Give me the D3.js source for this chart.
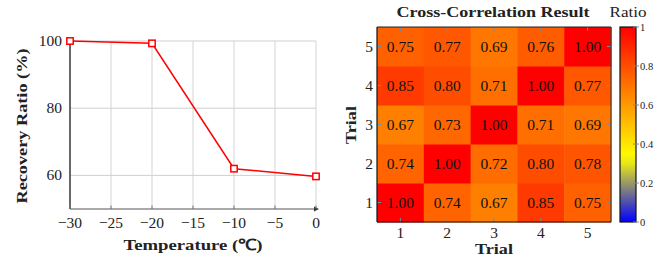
<!DOCTYPE html>
<html><head><meta charset="utf-8">
<script src="https://cdn.jsdelivr.net/npm/d3@7"></script>
<style>body{margin:0;background:#fff}svg{display:block}text{font-family:"Liberation Serif",serif;fill:#222}</style>
</head><body><svg id="c" width="672" height="259"></svg>
<script>
const temps = [-30, -20, -10, 0];
const recovery = [100, 99.3, 62, 59.7];
const xTicks = [-30, -25, -20, -15, -10, -5, 0];
const yTicks = [60, 80, 100];
const trials = [1, 2, 3, 4, 5];
// rows: trial y = 1..5, columns: trial x = 1..5
const corr = [
  [1.00, 0.74, 0.67, 0.85, 0.75],
  [0.74, 1.00, 0.72, 0.80, 0.78],
  [0.67, 0.73, 1.00, 0.71, 0.69],
  [0.85, 0.80, 0.71, 1.00, 0.77],
  [0.75, 0.77, 0.69, 0.76, 1.00]
];
const cbTicks = [0, 0.2, 0.4, 0.6, 0.8, 1];
const cbLabels = ["0", "0.2", "0.4", "0.6", "0.8", "1"];

const svg = d3.select("#c");
const minus = s => String(s).replace("-", "\u2212");

// ---------- Left line chart ----------
const L = {l: 70, r: 316, t: 41, b: 209};
const x = d3.scaleLinear().domain([-30, 0]).range([L.l, L.r]);
const y = d3.scaleLinear().domain([50, 100]).range([L.b, L.t]);
const g1 = svg.append("g");
g1.selectAll(".vg").data(xTicks).join("line")
  .attr("x1", d => x(d)).attr("x2", d => x(d)).attr("y1", L.t).attr("y2", L.b)
  .attr("stroke", "#d4d4d4").attr("stroke-width", 1);
g1.selectAll(".hg").data(yTicks).join("line")
  .attr("x1", L.l).attr("x2", L.r).attr("y1", d => y(d)).attr("y2", d => y(d))
  .attr("stroke", "#cfcfcf").attr("stroke-width", 1);
// axes
g1.append("line").attr("x1", L.l).attr("x2", L.l).attr("y1", L.t).attr("y2", L.b).attr("stroke", "#111").attr("stroke-width", 1.2);
g1.append("line").attr("x1", L.l).attr("x2", L.r + 1).attr("y1", L.b).attr("y2", L.b).attr("stroke", "#555").attr("stroke-width", 1.2);
g1.append("path").attr("d", `M${L.r + 3},${L.b} l-5,-2.5 l0,5 z`).attr("fill", "#333");
g1.selectAll(".xt").data(xTicks).join("line")
  .attr("x1", d => x(d)).attr("x2", d => x(d)).attr("y1", L.b).attr("y2", L.b - 3.5)
  .attr("stroke", "#777");
g1.selectAll(".xl").data(xTicks).join("text")
  .attr("x", d => x(d)).attr("y", 228).attr("text-anchor", "middle")
  .attr("font-size", 15.5).text(d => minus(d));
g1.selectAll(".yl").data(yTicks).join("text")
  .attr("x", 62).attr("y", d => y(d) + 5).attr("text-anchor", "end")
  .attr("font-size", 15.5).text(d => d);
g1.append("text").attr("x", 193).attr("y", 250).attr("text-anchor", "middle")
  .attr("font-size", 15.5).attr("font-weight", "bold")
  .attr("textLength", 139).attr("lengthAdjust", "spacingAndGlyphs").text("Temperature (\u2103)");
g1.append("text").attr("transform", "translate(27,126) rotate(-90)").attr("text-anchor", "middle")
  .attr("font-size", 15.5).attr("font-weight", "bold")
  .attr("textLength", 155).attr("lengthAdjust", "spacingAndGlyphs").text("Recovery Ratio (%)");
const pts = temps.map((t, i) => [t, recovery[i]]);
g1.append("path").attr("d", d3.line().x(d => x(d[0])).y(d => y(d[1]))(pts))
  .attr("fill", "none").attr("stroke", "#ff0000").attr("stroke-width", 1.5);
g1.selectAll(".mk").data(pts).join("rect")
  .attr("x", d => x(d[0]) - 3.2).attr("y", d => y(d[1]) - 3.2).attr("width", 6.4).attr("height", 6.4)
  .attr("fill", "#fff").attr("stroke", "#ff0000").attr("stroke-width", 1.5);

// ---------- Right heatmap ----------
const H = {l: 377, r: 611, t: 27, b: 222};
const hx = d3.scaleBand().domain(trials).range([H.l, H.r]);
const hy = d3.scaleBand().domain(trials.slice().reverse()).range([H.t, H.b]);
const cmap = d3.scaleLinear().domain([0, 1/3, 2/3, 1])
  .range(["#0000ff", "#ffff00", "#ff8000", "#ff0000"]).interpolate(d3.interpolateRgb);
const g2 = svg.append("g");
const cells = [];
corr.forEach((row, i) => row.forEach((v, j) => cells.push({xi: trials[j], yi: trials[i], v})));
g2.selectAll(".cell").data(cells).join("rect")
  .attr("x", d => hx(d.xi)).attr("y", d => hy(d.yi))
  .attr("width", hx.bandwidth() + 0.5).attr("height", hy.bandwidth() + 0.5)
  .attr("fill", d => cmap(d.v));
g2.selectAll(".ct").data(cells).join("text")
  .attr("x", d => hx(d.xi) + hx.bandwidth() / 2).attr("y", d => hy(d.yi) + hy.bandwidth() / 2 + 5)
  .attr("text-anchor", "middle").attr("font-size", 15.5).style("fill", "#111")
  .text(d => d.v.toFixed(2));
// ticks
const tickCol = "#7a8aa0";
g2.selectAll(".bt").data(trials).join("line")
  .attr("x1", d => hx(d) + hx.bandwidth() / 2).attr("x2", d => hx(d) + hx.bandwidth() / 2)
  .attr("y1", H.b).attr("y2", H.b - 4).attr("stroke", tickCol);
g2.selectAll(".tt").data(trials).join("line")
  .attr("x1", d => hx(d) + hx.bandwidth() / 2).attr("x2", d => hx(d) + hx.bandwidth() / 2)
  .attr("y1", H.t).attr("y2", H.t + 4).attr("stroke", tickCol);
g2.selectAll(".lt").data(trials).join("line")
  .attr("y1", d => hy(d) + hy.bandwidth() / 2).attr("y2", d => hy(d) + hy.bandwidth() / 2)
  .attr("x1", H.l).attr("x2", H.l + 4).attr("stroke", tickCol);
g2.selectAll(".rt").data(trials).join("line")
  .attr("y1", d => hy(d) + hy.bandwidth() / 2).attr("y2", d => hy(d) + hy.bandwidth() / 2)
  .attr("x1", H.r).attr("x2", H.r - 4).attr("stroke", tickCol);
// frame
g2.append("line").attr("x1", H.l).attr("x2", H.r).attr("y1", H.t).attr("y2", H.t).attr("stroke", "#222").attr("stroke-width", 1.2);
g2.append("line").attr("x1", H.r).attr("x2", H.r).attr("y1", H.t).attr("y2", H.b).attr("stroke", "#5a3a20").attr("stroke-width", 1.2);
g2.append("line").attr("x1", H.l).attr("x2", H.l).attr("y1", H.t).attr("y2", H.b).attr("stroke", "#111").attr("stroke-width", 1.2);
g2.append("line").attr("x1", H.l).attr("x2", H.r).attr("y1", H.b).attr("y2", H.b).attr("stroke", "#111").attr("stroke-width", 1.2);
g2.selectAll(".hxl").data(trials).join("text")
  .attr("x", d => hx(d) + hx.bandwidth() / 2).attr("y", 238).attr("text-anchor", "middle")
  .attr("font-size", 15.5).text(d => d);
g2.selectAll(".hyl").data(trials).join("text")
  .attr("x", 373).attr("y", d => hy(d) + hy.bandwidth() / 2 + 5).attr("text-anchor", "end")
  .attr("font-size", 15.5).text(d => d);
g2.append("text").attr("x", 494).attr("y", 254).attr("text-anchor", "middle")
  .attr("font-size", 15.5).attr("font-weight", "bold")
  .attr("textLength", 38).attr("lengthAdjust", "spacingAndGlyphs").text("Trial");
g2.append("text").attr("transform", "translate(356,125) rotate(-90)").attr("text-anchor", "middle")
  .attr("font-size", 15.5).attr("font-weight", "bold")
  .attr("textLength", 38).attr("lengthAdjust", "spacingAndGlyphs").text("Trial");
g2.append("text").attr("x", 493).attr("y", 17).attr("text-anchor", "middle")
  .attr("font-size", 15.5).attr("font-weight", "bold")
  .attr("textLength", 193).attr("lengthAdjust", "spacingAndGlyphs").text("Cross-Correlation Result");
g2.append("text").attr("x", 628).attr("y", 17).attr("text-anchor", "middle")
  .attr("font-size", 15.5).attr("textLength", 37).attr("lengthAdjust", "spacingAndGlyphs").text("Ratio");

// colorbar
const C = {l: 620, r: 636, t: 27, b: 222};
const cy = d3.scaleLinear().domain([0, 1]).range([C.b, C.t]);
const defs = svg.append("defs");
const grad = defs.append("linearGradient").attr("id", "cb").attr("x1", 0).attr("y1", 1).attr("x2", 0).attr("y2", 0);
d3.range(0, 1.0001, 0.05).forEach(t => grad.append("stop").attr("offset", t).attr("stop-color", cmap(t)));
g2.append("rect").attr("x", C.l).attr("y", C.t).attr("width", C.r - C.l).attr("height", C.b - C.t)
  .attr("fill", "url(#cb)").attr("stroke", "#111").attr("stroke-width", 1.2);
g2.selectAll(".cbt").data(cbTicks).join("line")
  .attr("x1", C.r - 3).attr("x2", C.r + 3).attr("y1", d => cy(d)).attr("y2", d => cy(d))
  .attr("stroke", tickCol);
g2.selectAll(".cbl").data(cbTicks).join("text")
  .attr("x", 640).attr("y", (d, i) => cy(d) + 3.5).attr("font-size", 10.5)
  .text((d, i) => cbLabels[i]);
</script></body></html>
